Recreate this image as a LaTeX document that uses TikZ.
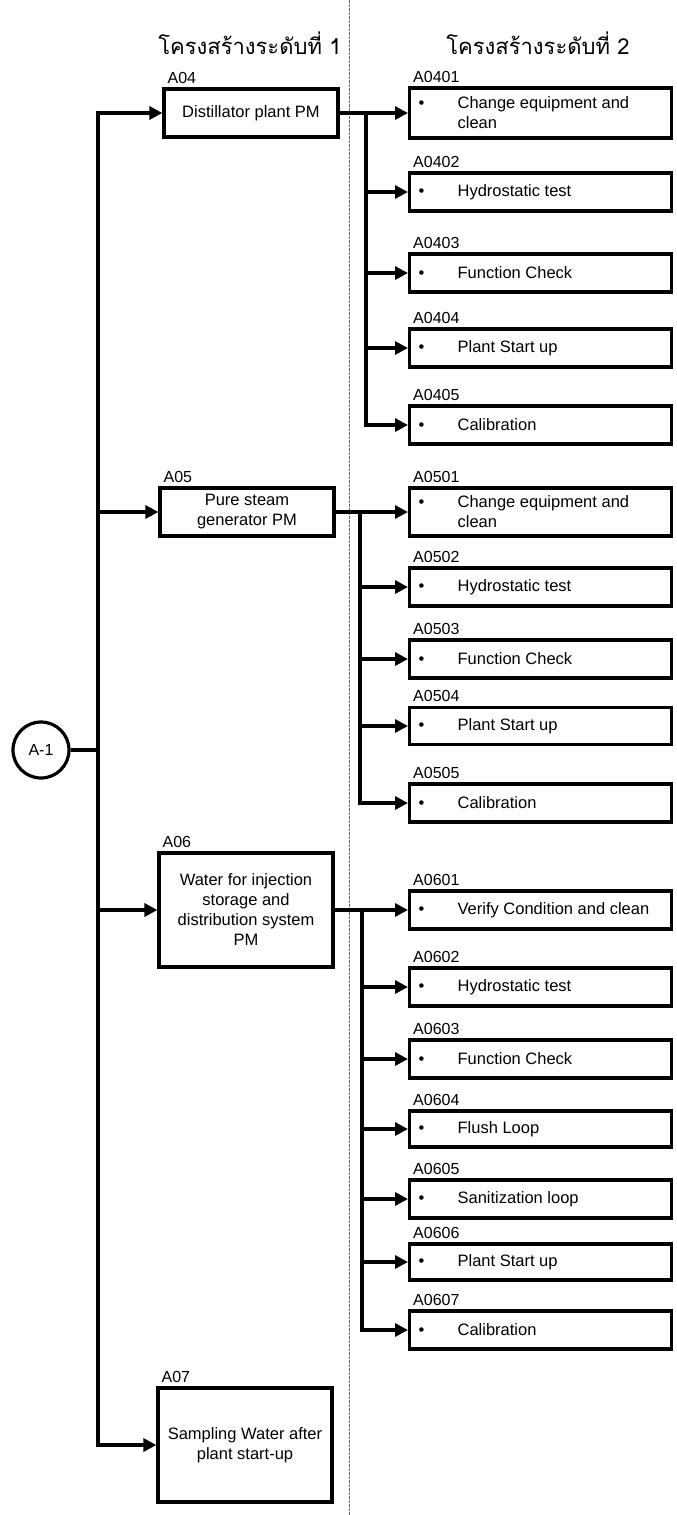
\documentclass[tikz,border=0pt]{standalone}
\usepackage{fontspec}
\setmainfont{Liberation Sans}
\newfontfamily\thaifont[Script=Thai]{Loma}
\usepackage{tikz}
\usetikzlibrary{shapes.geometric, arrows.meta, positioning, calc}

\newcommand{\bulitem}[1]{\makebox[39pt][l]{\textbullet}\parbox[t]{205pt}{#1}}

\begin{document}
\begin{tikzpicture}[x=1pt, y=-1pt,
  conn/.style={line width=3.2pt},
  arr/.style={conn, -{Triangle[length=13pt,width=13pt]}},
  mainbox/.style={draw, line width=3.2pt, minimum width=174pt, align=center, font=\fontsize{16.5}{20}\selectfont},
  subbox/.style={draw, line width=3.2pt, anchor=west, minimum width=262pt, inner xsep=9pt, font=\fontsize{16.5}{20}\selectfont},
  codelbl/.style={anchor=south west, inner sep=0pt, font=\fontsize{16}{18}\selectfont},
  hdr/.style={font=\thaifont\fontsize{22}{26}\selectfont},
  divider/.style={black!60, line width=0.9pt, dash pattern=on 2.5pt off 1.5pt}]
\useasboundingbox (0,0) rectangle (677,1515);

\draw[divider] (349,0) -- (349,1515);
\node[hdr] (h1) at (250,43) {โครงสร้างระดับที่ 1};
\node[hdr] (h2) at (538,43) {โครงสร้างระดับที่ 2};

% level 1
\node[mainbox, minimum height=48pt] (a04) at (251,113) {Distillator plant PM};
\node[mainbox, minimum height=48pt] (a05) at (247,512) {Pure steam\\generator PM};
\node[mainbox, minimum height=114pt] (a06) at (246,910) {Water for injection\\storage and\\distribution system\\PM};
\node[mainbox, minimum height=114pt] (a07) at (245,1445) {Sampling Water after\\plant start-up};
\foreach \b in {04,05,06,07}
  \node[codelbl] (l\b) at ([xshift=5pt,yshift=4pt]a\b.north west) {A\b};

\node[draw, circle, line width=3.2pt, minimum size=56pt, font=\fontsize{16}{18}\selectfont] (a1) at (41,750) {A-1};
\coordinate (trunk) at (98,750);
\draw[conn] (a1) -- (trunk);
\draw[arr] (trunk) |- (a04);
\draw[arr] (trunk) |- (a07);
\foreach \b in {05,06}
  \draw[arr] (a\b.west -| trunk) -- (a\b.west);

% level 2
\coordinate (s04) at (366,113);
\coordinate (s05) at (360,512);
\coordinate (s06) at (362,910);
\foreach \b in {04,05,06}
  \draw[conn] (a\b.east) -- (s\b);

\foreach \g/\c/\yy/\hh/\txt in {
  04/0401/113/50/{Change equipment and\\clean},
  04/0402/192/38/Hydrostatic test,
  04/0403/273/38/Function Check,
  04/0404/348/38/Plant Start up,
  04/0405/425/38/Calibration,
  05/0501/512/48/{Change equipment and\\clean},
  05/0502/587/38/Hydrostatic test,
  05/0503/659/38/Function Check,
  05/0504/726/37/Plant Start up,
  05/0505/803/38/Calibration,
  06/0601/910/38/Verify Condition and clean,
  06/0602/987/38/Hydrostatic test,
  06/0603/1059/38/Function Check,
  06/0604/1129/36/Flush Loop,
  06/0605/1199/38/Sanitization loop,
  06/0606/1262/36/Plant Start up,
  06/0607/1330/38/Calibration}
{
  \node[subbox, minimum height=\hh pt] (n\c) at (408,\yy) {\bulitem{\txt}};
  \node[codelbl] (l\c) at ([xshift=5pt,yshift=4pt]n\c.north west) {A\c};
  \draw[arr] (s\g) |- (n\c.west);
}
\end{tikzpicture}
\end{document}
